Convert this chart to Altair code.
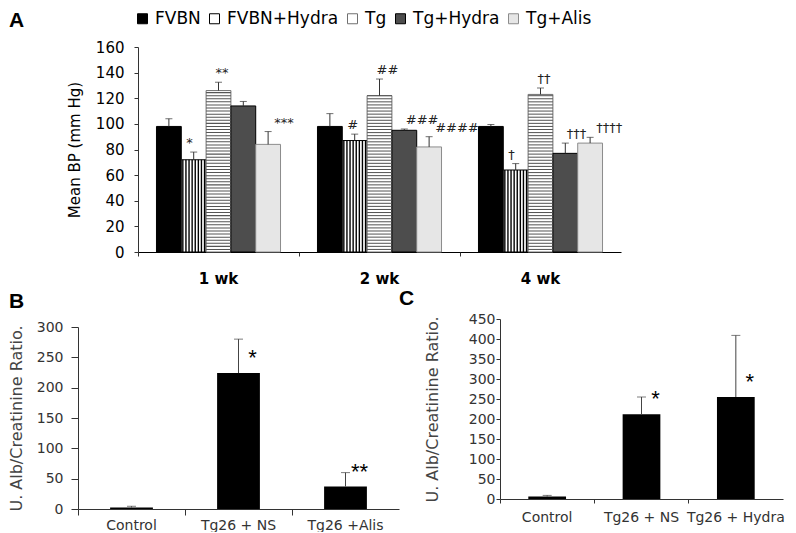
import altair as alt
import pandas as pd

FONT = "DejaVu Sans"
LETTER_FONT = "Liberation Sans"

# ---------------- Panel A data ----------------
weeks = ["1 wk", "2 wk", "4 wk"]
groups_a = ["FVBN", "FVBN+Hydra", "Tg", "Tg+Hydra", "Tg+Alis"]
bp_1wk = [98, 72, 126, 114, 84]
bp_2wk = [98, 87, 122, 95, 82]
bp_4wk = [98, 64, 123, 77, 85]
sem_1wk = [6, 6, 6.5, 3.5, 10]
sem_2wk = [10, 5, 13, 1, 8]
sem_4wk = [1.5, 5, 5, 8, 4.5]
sig_1wk = ["", "*", "**", "", "***"]
sig_2wk = ["", "#", "##", "###", "####"]
sig_4wk = ["", "\u2020", "\u2020\u2020", "\u2020\u2020\u2020", "\u2020\u2020\u2020\u2020"]

# ---------------- Panel B data ----------------
cats_b = ["Control", "Tg26 + NS", "Tg26 +Alis"]
ratio_b = [2.5, 224, 37]
sem_b = [2, 56, 23]
sig_b = ["", "*", "**"]

# ---------------- Panel C data ----------------
cats_c = ["Control", "Tg26 + NS", "Tg26 + Hydra"]
ratio_c = [6, 212, 255]
sem_c = [3, 43, 154]
sig_c = ["", "*", "*"]

# styles (not data)
fills_a = ["#000000", "#ffffff", "#ffffff", "#4d4d4d", "#e6e6e6"]
strokes_a = ["#000000", "#000000", "#707070", "#000000", "#8c8c8c"]
N_STRIPES = 8
OUTER = 0.745
N_PAD = 5
stripe_slots = ([f"padL{i}" for i in range(N_PAD)]
                + [f"{g}|{k}" for g in groups_a for k in range(N_STRIPES)]
                + [f"padR{i}" for i in range(N_PAD)])
stripe_outer = OUTER * N_STRIPES - N_PAD
A_SHIFT = 60      # panel A plot starts this far right of panel B's
A_WIDTH = 483

rows = []
for w, vals, sems, sigs in zip(weeks, [bp_1wk, bp_2wk, bp_4wk],
                               [sem_1wk, sem_2wk, sem_4wk],
                               [sig_1wk, sig_2wk, sig_4wk]):
    for g, v, s, t in zip(groups_a, vals, sems, sigs):
        rows.append({"week": w, "group": g, "bp": v, "top": v + s, "sig": t})
dfa = pd.DataFrame(rows)

xscale_a = alt.Scale(domain=weeks, paddingInner=0, paddingOuter=0,
                     range=[A_SHIFT, A_SHIFT + A_WIDTH])
xo_a = alt.XOffset("group:N", scale=alt.Scale(domain=groups_a, paddingInner=0, paddingOuter=OUTER))
yscale_a = alt.Scale(domain=[0, 160])

label_axis_a = alt.Axis(title=None, ticks=False, labelAngle=0, labelFont=FONT,
                        labelFontSize=15, labelFontWeight="bold", labelColor="black",
                        labelPadding=19, domainColor="black", orient="bottom")
tick_axis_a = alt.Axis(title=None, labels=False, domain=False, ticks=True, tickSize=4,
                       tickColor="#333", bandPosition=0, orient="bottom")
y_axis_a = alt.Axis(values=list(range(0, 161, 20)), title="Mean BP (mm Hg)",
                    titleFont=FONT, titleFontSize=15, titleFontWeight="normal",
                    titleColor="black", titlePadding=13, labelFont=FONT, labelFontSize=15,
                    labelColor="black", labelPadding=10, labelOverlap=False, tickSize=4,
                    tickColor="#333", domainColor="#333", grid=False, offset=-A_SHIFT)

bars_a = alt.Chart(dfa).mark_bar(strokeWidth=1).encode(
    x=alt.X("week:N", scale=xscale_a, axis=label_axis_a),
    xOffset=xo_a,
    y=alt.Y("bp:Q", scale=yscale_a, axis=y_axis_a),
    fill=alt.Fill("group:N", scale=alt.Scale(domain=groups_a, range=fills_a),
                  legend=alt.Legend(orient="none", legendX=A_SHIFT - 4, legendY=-37,
                                    direction="horizontal",
                                    title=None, symbolType="square", symbolSize=100,
                                    symbolStrokeColor="black", symbolStrokeWidth=1,
                                    labelFont=FONT, labelFontSize=17, labelColor="black",
                                    labelOffset=4, columnPadding=5, padding=0)),
    stroke=alt.Stroke("group:N", scale=alt.Scale(domain=groups_a, range=strokes_a), legend=None),
)

hstripes_a = alt.Chart(dfa).transform_filter(alt.datum.group == "Tg").transform_calculate(
    s="sequence(1.6, datum.bp, 2.4)"
).transform_flatten(["s"]).transform_calculate(s2="datum.s + 0.8").mark_bar(color="#555555").encode(
    x=alt.X("week:N", scale=xscale_a, axis=None),
    xOffset=xo_a,
    y=alt.Y("s:Q", scale=yscale_a, axis=y_axis_a),
    y2="s2:Q",
)

vstripes_a = alt.Chart(dfa).transform_filter(alt.datum.group == "FVBN+Hydra").transform_calculate(
    k=f"sequence(0, {N_STRIPES})"
).transform_flatten(["k"]).transform_calculate(
    slot="datum.group + '|' + datum.k"
).mark_rule(strokeWidth=1.4, color="black").encode(
    x=alt.X("week:N", scale=xscale_a, axis=None),
    xOffset=alt.XOffset("slot:N", scale=alt.Scale(domain=stripe_slots, paddingInner=0,
                                                  paddingOuter=stripe_outer)),
    y=alt.Y("bp:Q", scale=yscale_a, axis=y_axis_a),
    y2=alt.datum(0),
)

err_a = alt.Chart(dfa).mark_rule(color="#333333", strokeWidth=1).encode(
    x=alt.X("week:N", scale=xscale_a, axis=tick_axis_a),
    xOffset=xo_a,
    y=alt.Y("bp:Q", scale=yscale_a, axis=y_axis_a),
    y2="top:Q",
)
cap_a = alt.Chart(dfa).mark_tick(color="#333333", thickness=1, size=7).encode(
    x=alt.X("week:N", scale=xscale_a, axis=None),
    xOffset=xo_a,
    y=alt.Y("top:Q", scale=yscale_a, axis=y_axis_a),
)
ann_a = alt.Chart(dfa).mark_text(align="left", baseline="bottom", dx=-3, dy=-2,
                                 font=FONT, fontSize=13, color="#222222").encode(
    x=alt.X("week:N", scale=xscale_a, axis=None),
    xOffset=xo_a,
    y=alt.Y("top:Q", scale=yscale_a, axis=y_axis_a),
    text="sig:N",
)

panel_a = alt.layer(bars_a, hstripes_a, vstripes_a, err_a, cap_a, ann_a).resolve_axis(
    x="independent"
).resolve_scale(xOffset="independent").properties(
    width=A_SHIFT + A_WIDTH, height=205,
    title=alt.TitleParams("A", anchor="start", frame="group", dx=-69, dy=-9, offset=0,
                          font=LETTER_FONT, fontSize=21, fontWeight="bold", color="black"),
)


def small_panel(cats, vals, sems, sigs, ymax, width, height, top_gap, letter, title_dx,
                title_dy, ytick, ylabpad, ytitlepad, xlabpad, xtick, cap):
    df = pd.DataFrame({"cat": cats, "val": vals,
                       "top": [v + s for v, s in zip(vals, sems)], "sig": sigs})
    xs = alt.Scale(domain=cats, paddingInner=0, paddingOuter=0)
    ys = alt.Scale(domain=[0, ymax], range=[height + top_gap, top_gap])
    y_axis = alt.Axis(values=list(range(0, ymax + 1, 50)), title="U. Alb/Creatinine Ratio.",
                      titleFont=FONT, titleFontSize=16, titleFontWeight="normal",
                      titleColor="#444444", titlePadding=ytitlepad, labelFont=FONT,
                      labelFontSize=14, labelColor="#333333", labelPadding=ylabpad,
                      labelOverlap=False, tickSize=ytick, tickColor="#333",
                      domainColor="#333", grid=False)
    lab_axis = alt.Axis(title=None, ticks=False, labelAngle=0, labelFont=FONT, labelFontSize=14,
                        labelColor="#333333", labelPadding=xlabpad, domainColor="#333",
                        orient="bottom")
    tick_axis = alt.Axis(title=None, labels=False, domain=False, ticks=True, tickSize=xtick,
                         tickColor="#333", bandPosition=0, orient="bottom")
    bars = alt.Chart(df).mark_bar(color="black", width=alt.RelativeBandSize(0.4)).encode(
        x=alt.X("cat:N", scale=xs, sort=cats, axis=lab_axis),
        y=alt.Y("val:Q", scale=ys, axis=y_axis),
    )
    err = alt.Chart(df).mark_rule(color="#444444", strokeWidth=1).encode(
        x=alt.X("cat:N", scale=xs, sort=cats, axis=tick_axis),
        y=alt.Y("val:Q", scale=ys, axis=y_axis),
        y2="top:Q",
    )
    caps = alt.Chart(df).mark_tick(color="#444444", thickness=1, size=cap).encode(
        x=alt.X("cat:N", scale=xs, sort=cats, axis=None),
        y=alt.Y("top:Q", scale=ys, axis=y_axis),
    )
    ann = alt.Chart(df).mark_text(align="center", baseline="alphabetic", dx=14, dy=-8,
                                  font="Liberation Sans", fontSize=22, color="black").encode(
        x=alt.X("cat:N", scale=xs, sort=cats, axis=None),
        y=alt.Y("val:Q", scale=ys, axis=y_axis),
        text="sig:N",
    )
    return alt.layer(bars, err, caps, ann).resolve_axis(x="independent").properties(
        width=width, height=height + top_gap,
        title=alt.TitleParams(letter, anchor="start", frame="group", dx=title_dx, dy=title_dy,
                              offset=0, font=LETTER_FONT, fontSize=21, fontWeight="bold",
                              color="black"),
    )


panel_b = small_panel(cats_b, ratio_b, sem_b, sig_b, 300, 321, 182, 8, "B", -69, -7,
                      ytick=7, ylabpad=8, ytitlepad=12, xlabpad=9, xtick=6, cap=9)
panel_c = small_panel(cats_c, ratio_c, sem_c, sig_c, 450, 283, 180, 0, "C", -101, -3,
                      ytick=4, ylabpad=1, ytitlepad=28, xlabpad=11, xtick=4, cap=9)

bottom_row = alt.concat(panel_b, panel_c, columns=2, align="none", spacing=0)

chart = alt.concat(
    panel_a, bottom_row, columns=1, align="none", spacing=2,
).properties(padding={"top": 2, "left": 0, "right": 0, "bottom": 0}).configure_view(stroke=None)

chart.save("out.html", embed_options={"renderer": "svg", "actions": False})
